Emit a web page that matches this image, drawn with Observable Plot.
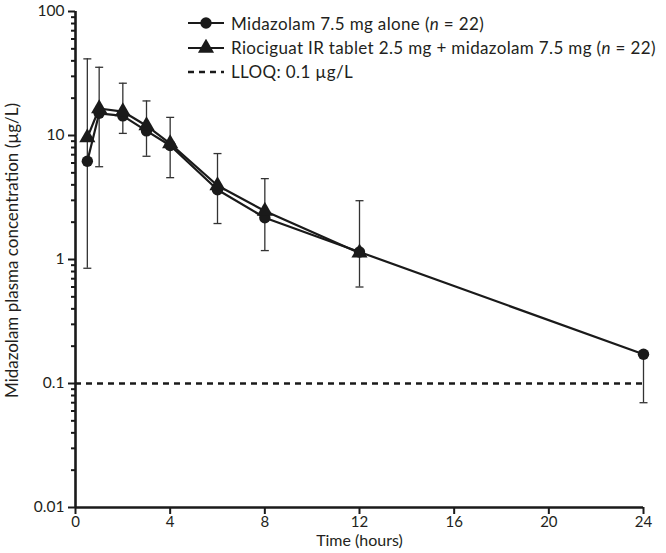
<!DOCTYPE html>
<html>
<head>
<meta charset="utf-8">
<script src="https://cdn.jsdelivr.net/npm/d3@7"></script>
<script src="https://cdn.jsdelivr.net/npm/@observablehq/plot@0.6"></script>
<style>
  html, body { margin: 0; padding: 0; background: #fff; }
  #wrap { position: relative; width: 666px; height: 553px; font-family: Lato, "Open Sans", sans-serif; color: #231f20; }
  #legend { position: absolute; left: 188px; top: 11px; font-size: 17px; letter-spacing: 0.35px; }
  #legend .row { display: flex; align-items: center; height: 24.3px; white-space: nowrap; }
  #legend svg { margin-right: 7px; flex: none; }
</style>
</head>
<body>
<div id="wrap">
  <div id="chart"></div>
  <div id="legend"></div>
</div>
<script>
// ---- data ----
const timesAlone = [0.5, 1, 2, 3, 4, 6, 8, 12, 24];
const midazolamAlone = [6.2, 15.1, 14.4, 10.9, 8.3, 3.65, 2.17, 1.15, 0.172];
const timesCombo = [0.5, 1, 2, 3, 4, 6, 8, 12];
const riociguatPlusMidazolam = [9.6, 16.5, 15.6, 12.0, 8.6, 3.95, 2.46, 1.13];
const errTimes = [0.5, 1, 2, 3, 4, 6, 8, 12, 24];
const errLow = [0.85, 5.6, 10.4, 6.8, 4.57, 1.95, 1.18, 0.6, 0.07];
const errHigh = [41.5, 35.5, 26.4, 19.0, 14.0, 7.15, 4.49, 2.98, 0.172];
const lloq = 0.1;
const xTicks = [0, 4, 8, 12, 16, 20, 24];
const yMajor = [0.01, 0.1, 1, 10, 100];
const yMinorMultipliers = [2, 3, 4, 5, 6, 7, 8, 9];
const seriesNames = [
  "Midazolam 7.5 mg alone (",
  "Riociguat IR tablet 2.5 mg + midazolam 7.5 mg (",
  "LLOQ: 0.1 µg/L"
];
const xLabel = "Time (hours)";
const yLabel = "Midazolam plasma concentration (µg/L)";

// ---- tables ----
const alone = timesAlone.map((t, i) => ({t, v: midazolamAlone[i]}));
const combo = timesCombo.map((t, i) => ({t, v: riociguatPlusMidazolam[i]}));
const errs = errTimes.map((t, i) => ({t, lo: errLow[i], hi: errHigh[i]}));
const caps = errs.flatMap(d => d.hi !== alone.find(a => a.t === d.t).v
  ? [{t: d.t, v: d.lo}, {t: d.t, v: d.hi}] : [{t: d.t, v: d.lo}]);
const yMinor = yMajor.slice(0, -1).flatMap(d => yMinorMultipliers.map(k => +(k * d).toPrecision(3)));

const capSymbol = {
  draw(context, size) {
    const r = Math.sqrt(size / Math.PI);
    context.moveTo(-r, 0);
    context.lineTo(r, 0);
  }
};

const ink = "#1a1a1a";
const chart = Plot.plot({
  width: 666,
  height: 553,
  marginLeft: 75,
  marginRight: 23,
  marginTop: 11,
  marginBottom: 46,
  style: {fontFamily: "Lato, 'Open Sans', sans-serif", fontSize: "15px", color: "#231f20", background: "white"},
  x: {domain: [0, 24]},
  y: {type: "log", domain: [0.01, 100]},
  marks: [
    Plot.axisY({ticks: yMinor, tickSize: 4, tickFormat: () => "", label: null, strokeWidth: 2, stroke: ink}),
    Plot.axisY({ticks: yMajor, tickSize: 7, tickPadding: 4, tickFormat: d => String(d), label: null, strokeWidth: 2, stroke: ink, fontSize: 15.5}),
    Plot.axisX({ticks: xTicks, tickSize: 7, tickPadding: 2, label: null, strokeWidth: 2, stroke: ink, fontSize: 15}),
    Plot.ruleY([lloq], {x1: 0, x2: 24, stroke: ink, strokeWidth: 2.5, strokeDasharray: "6,5"}),
    Plot.ruleX(errs, {x: "t", y1: "lo", y2: "hi", stroke: "#333", strokeWidth: 1.3}),
    Plot.dot(caps, {x: "t", y: "v", symbol: capSymbol, r: 4, stroke: "#333", strokeWidth: 1.3, fill: "none"}),
    Plot.line(alone, {x: "t", y: "v", stroke: ink, strokeWidth: 2.2}),
    Plot.line(combo, {x: "t", y: "v", stroke: ink, strokeWidth: 2.2}),
    Plot.dot(alone, {x: "t", y: "v", symbol: "circle", r: 5.7, fill: ink, stroke: "none"}),
    Plot.dot(combo, {x: "t", y: "v", symbol: "triangle", r: 6, fill: ink, stroke: "none"}),
    Plot.ruleX([0], {stroke: ink, strokeWidth: 2.6}),
    Plot.ruleY([0.01], {stroke: ink, strokeWidth: 2.6}),
    Plot.text([xLabel], {frameAnchor: "bottom", dy: 38, fontSize: 16, fill: "#231f20"}),
    Plot.text([yLabel], {frameAnchor: "left", textAnchor: "middle", dx: -63, dy: -9, rotate: -90, fontSize: 17, fill: "#231f20"})
  ]
});
document.getElementById("chart").appendChild(chart);

// ---- legend ----
const legend = document.getElementById("legend");
const sym = [
  `<svg width="36" height="14"><line x1="0" y1="7" x2="36" y2="7" stroke="${ink}" stroke-width="2.2"/><circle cx="18" cy="7" r="5.7" fill="${ink}"/></svg>`,
  `<svg width="36" height="16"><line x1="0" y1="9" x2="36" y2="9" stroke="${ink}" stroke-width="2.2"/><path d="${d3.symbol(d3.symbolTriangle, Math.PI * 36)()}" transform="translate(18,9)" fill="${ink}"/></svg>`,
  `<svg width="36" height="14"><line x1="0" y1="7" x2="36" y2="7" stroke="${ink}" stroke-width="2.5" stroke-dasharray="6,5"/></svg>`
];
seriesNames.forEach((name, i) => {
  const row = document.createElement("div");
  row.className = "row";
  const label = i < 2 ? `${name}<i>n</i> = 22)` : name;
  row.innerHTML = sym[i] + `<span>${label}</span>`;
  legend.appendChild(row);
});
</script>
</body>
</html>
